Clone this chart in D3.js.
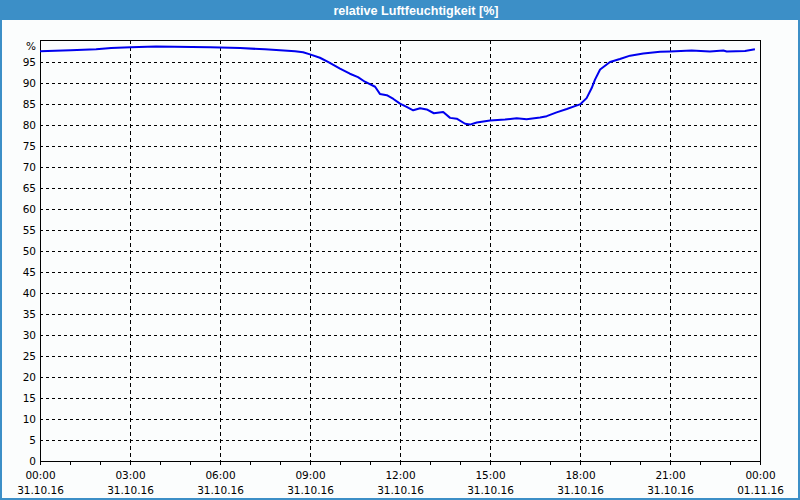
<!DOCTYPE html>
<html>
<head>
<meta charset="utf-8">
<script src="https://cdn.jsdelivr.net/npm/d3@7/dist/d3.min.js"></script>
<style>
  html, body { margin: 0; padding: 0; background: #ffffff; }
  svg { display: block; }
</style>
</head>
<body>
<svg id="chart" width="800" height="500"></svg>
<script>
// ---- data ----
const title = "relative Luftfeuchtigkeit [%]";
const unitLabel = "%";
// time of measurement in hours since 31.10.16 00:00
const hours = [
  0.00, 1.02, 1.87, 2.37, 3.02, 3.87, 5.67, 6.67, 7.50, 8.00, 8.50, 8.77,
  9.00, 9.33, 9.60, 10.00, 10.33, 10.60, 10.83, 11.17, 11.33, 11.56, 11.78,
  12.00, 12.22, 12.44, 12.67, 12.89, 13.13, 13.44, 13.67, 13.89, 14.17, 14.33,
  14.56, 15.00, 15.50, 15.89, 16.22, 16.67, 16.89, 17.22, 17.56, 17.83, 18.00,
  18.22, 18.39, 18.50, 18.67, 19.00, 19.33, 19.67, 20.11, 20.67, 21.00, 21.72,
  22.33, 22.78, 22.89, 23.50, 23.83
];
const humidity = [
  97.45, 97.7, 97.9, 98.2, 98.4, 98.6, 98.4, 98.2, 97.9, 97.7, 97.45, 97.2,
  96.7, 95.9, 94.9, 93.3, 92.1, 91.3, 90.2, 89.0, 87.3, 87.0, 86.1,
  85.0, 84.2, 83.4, 83.9, 83.6, 82.7, 83.0, 81.6, 81.4, 80.2, 80.0,
  80.5, 81.0, 81.2, 81.5, 81.3, 81.7, 82.0, 82.9, 83.7, 84.4, 84.8,
  86.3, 88.7, 90.7, 93.1, 94.9, 95.6, 96.4, 96.9, 97.3, 97.4, 97.6,
  97.4, 97.6, 97.4, 97.5, 97.9
];
const yTicks = [0,5,10,15,20,25,30,35,40,45,50,55,60,65,70,75,80,85,90,95];
const xLabelHours = [0,3,6,9,12,15,18,21,24];
const xTimeLabels = ["00:00","03:00","06:00","09:00","12:00","15:00","18:00","21:00","00:00"];
const xDateLabels = ["31.10.16","31.10.16","31.10.16","31.10.16","31.10.16","31.10.16","31.10.16","31.10.16","01.11.16"];
const xMinorHours = d3.range(0, 25, 1);

// ---- layout ----
const W = 800, H = 500;
const plot = { left: 40, right: 760, top: 40, bottom: 461 };
const blue = "#3c8fc7";
const font = "'DejaVu Sans', sans-serif";

const svg = d3.select("#chart");

// background + border
svg.append("rect").attr("x", 0).attr("y", 0).attr("width", W).attr("height", H).attr("fill", blue);
svg.append("rect").attr("x", 2).attr("y", 20).attr("width", W - 4).attr("height", H - 22).attr("fill", "#fbfdfd");

// title
svg.append("text")
  .attr("x", 416).attr("y", 14.5)
  .attr("text-anchor", "middle")
  .attr("fill", "#ffffff")
  .style("font-family", "'Liberation Sans', Arial, sans-serif")
  .style("font-weight", "bold")
  .style("font-size", "12.6px")
  .text(title);

const x = d3.scaleLinear().domain([0, 24]).range([plot.left, plot.right]);
const y = d3.scaleLinear().domain([0, 100]).range([plot.bottom, plot.top + 0.5]);

const g = svg.append("g").attr("shape-rendering", "crispEdges");

// horizontal grid
g.selectAll("line.hgrid").data(yTicks.filter(d => d > 0)).enter().append("line")
  .attr("x1", plot.left).attr("x2", plot.right)
  .attr("y1", d => Math.round(y(d)) + 0.5).attr("y2", d => Math.round(y(d)) + 0.5)
  .attr("stroke", "#000").attr("stroke-width", 1).attr("stroke-dasharray", "3,3");

// vertical grid
g.selectAll("line.vgrid").data(xLabelHours.filter(d => d > 0 && d < 24)).enter().append("line")
  .attr("y1", plot.top).attr("y2", plot.bottom)
  .attr("x1", d => Math.round(x(d)) + 0.5).attr("x2", d => Math.round(x(d)) + 0.5)
  .attr("stroke", "#000").attr("stroke-width", 1).attr("stroke-dasharray", "4,3");

// frame
g.append("rect")
  .attr("x", plot.left + 0.5).attr("y", plot.top + 0.5)
  .attr("width", plot.right - plot.left).attr("height", plot.bottom - plot.top)
  .attr("fill", "none").attr("stroke", "#000").attr("stroke-width", 1);

// x minor ticks
g.selectAll("line.xtick").data(xMinorHours).enter().append("line")
  .attr("x1", d => Math.round(x(d)) + 0.5).attr("x2", d => Math.round(x(d)) + 0.5)
  .attr("y1", plot.bottom).attr("y2", plot.bottom + 4)
  .attr("stroke", "#000");

// y labels
svg.selectAll("text.ylab").data(yTicks).enter().append("text")
  .attr("x", 36).attr("y", d => Math.round(y(d)) + 0.5)
  .attr("dy", "0.36em")
  .attr("text-anchor", "end")
  .style("font-family", font).style("font-size", "10.5px").attr("fill", "#000")
  .text(d => d);
svg.append("text")
  .attr("x", 36).attr("y", 46).attr("dy", "0.36em")
  .attr("text-anchor", "end")
  .style("font-family", font).style("font-size", "10.5px").attr("fill", "#000")
  .text(unitLabel);

// x labels
const xl = svg.selectAll("g.xlab").data(xLabelHours).enter().append("g")
  .attr("transform", d => `translate(${Math.round(x(d)) + 0.5},0)`);
xl.append("text").attr("y", 478.5).attr("text-anchor", "middle")
  .style("font-family", font).style("font-size", "10.5px").attr("fill", "#000")
  .text((d, i) => xTimeLabels[i]);
xl.append("text").attr("y", 493.5).attr("text-anchor", "middle")
  .style("font-family", font).style("font-size", "10.5px").attr("fill", "#000")
  .text((d, i) => xDateLabels[i]);

// data line
const pts = hours.map((h, i) => [h, humidity[i]]);
const line = d3.line().x(d => x(d[0])).y(d => y(d[1]));
svg.append("path").datum(pts)
  .attr("d", line)
  .attr("fill", "none")
  .attr("stroke", "#0000ee")
  .attr("stroke-width", 2)
  .attr("stroke-linejoin", "round");
</script>
</body>
</html>
